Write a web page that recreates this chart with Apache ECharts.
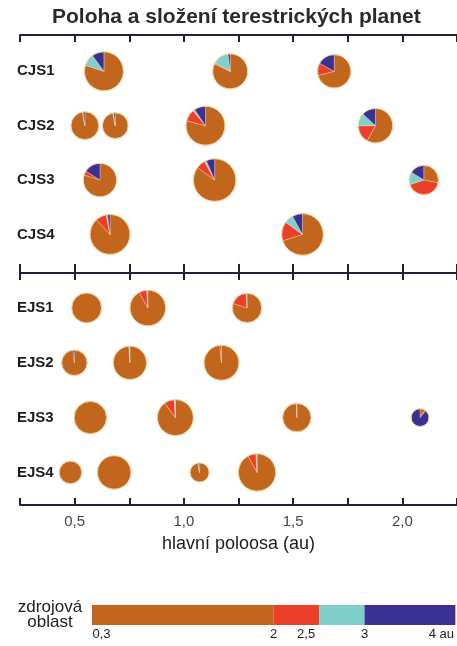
<!DOCTYPE html>
<html>
<head>
<meta charset="utf-8">
<script src="https://cdn.jsdelivr.net/npm/echarts@6/dist/echarts.min.js"></script>
<style>
html,body{margin:0;padding:0;background:#fff;}
#chart{width:457px;height:646px;}
</style>
</head>
<body>
<div id="chart"></div>
<script>
// ---- data ----
const titleText = 'Poloha a složení terestrických planet';
const axisName = 'hlavní poloosa (au)';
const xTickLabels = [0.5, 1.0, 1.5, 2.0];

const cjsRows = ['CJS1', 'CJS2', 'CJS3', 'CJS4'];
const ejsRows = ['EJS1', 'EJS2', 'EJS3', 'EJS4'];

// semi-major axes (au) per row
const cjsA = [
  [0.634, 1.212, 1.688],
  [0.547, 0.686, 1.099, 1.877],
  [0.616, 1.141, 2.098],
  [0.662, 1.543]
];
const ejsA = [
  [0.555, 0.835, 1.289],
  [0.499, 0.753, 1.172],
  [0.572, 0.961, 1.517, 2.081],
  [0.481, 0.681, 1.072, 1.335]
];
// planet masses (relative, size of disc ~ mass^(1/3))
const cjsMass = [
  [0.93, 0.67, 0.58],
  [0.34, 0.27, 0.93, 0.64],
  [0.58, 1.21, 0.40],
  [1.00, 1.13]
];
const ejsMass = [
  [0.42, 0.71, 0.40],
  [0.26, 0.58, 0.67],
  [0.54, 0.73, 0.36, 0.09],
  [0.18, 0.59, 0.11, 0.82]
];
// composition by source region: [0.3-2, 2-2.5, 2.5-3, 3-4 au]
const cjsComp = [
  [[0.80, 0.00, 0.10, 0.10], [0.82, 0.01, 0.15, 0.02], [0.71, 0.12, 0.00, 0.17]],
  [[0.97, 0.01, 0.00, 0.02], [0.97, 0.00, 0.01, 0.02], [0.79, 0.10, 0.015, 0.095], [0.58, 0.17, 0.12, 0.13]],
  [[0.80, 0.04, 0.00, 0.16], [0.85, 0.07, 0.015, 0.065], [0.28, 0.42, 0.14, 0.16]],
  [[0.88, 0.09, 0.01, 0.02], [0.70, 0.15, 0.07, 0.08]]
];
const ejsComp = [
  [[1.00, 0.00, 0.00, 0.00], [0.92, 0.07, 0.01, 0.00], [0.80, 0.19, 0.01, 0.00]],
  [[0.98, 0.00, 0.00, 0.02], [0.99, 0.00, 0.01, 0.00], [0.985, 0.015, 0.00, 0.00]],
  [[1.00, 0.00, 0.00, 0.00], [0.90, 0.09, 0.01, 0.00], [0.995, 0.00, 0.005, 0.00], [0.09, 0.02, 0.00, 0.89]],
  [[1.00, 0.00, 0.00, 0.00], [1.00, 0.00, 0.00, 0.00], [0.97, 0.00, 0.01, 0.02], [0.92, 0.07, 0.01, 0.00]]
];

// source-region legend
const srcLabels = ['0,3', '2', '2,5', '3', '4 au'];
const srcWidths = [4, 1, 1, 2];
const srcTitle = 'zdrojová\noblast';

// ---- styles ----
const regionColors = ['#c1661c', '#ec3f2a', '#7fd0cd', '#3a3192'];
const axisColor = '#20203a';
const textColor = '#1c1c1c';
const FONT = 'Liberation Sans, Arial';

function buildData(A, M, C) {
  const out = [];
  A.forEach((row, i) => row.forEach((a, j) => {
    out.push([a, i + 1, M[i][j]].concat(C[i][j]));
  }));
  return out;
}

function radiusOf(m) { return 20 * Math.cbrt(m); }

function renderPie(params, api) {
  const c = api.coord([api.value(0), api.value(1)]);
  const r = radiusOf(api.value(2));
  const children = [];
  let ang = -Math.PI / 2;
  for (let k = 0; k < 4; k++) {
    const f = api.value(3 + k);
    if (f <= 0) continue;
    const e = ang + f * 2 * Math.PI;
    children.push({
      type: 'sector',
      shape: { cx: c[0], cy: c[1], r0: 0, r: r, startAngle: ang, endAngle: e, clockwise: true },
      style: { fill: regionColors[k], stroke: 'rgba(250,225,190,0.7)', lineWidth: 0.5 }
    });
    ang = e;
  }
  children.push({
    type: 'circle',
    shape: { cx: c[0], cy: c[1], r: r },
    style: { fill: 'none', stroke: '#f3d2a2', lineWidth: 1 }
  });
  return { type: 'group', children: children };
}

const xBase = {
  type: 'value', min: 0.25, max: 2.25, interval: 0.25,
  axisLine: { show: true, onZero: false, lineStyle: { color: axisColor, width: 2 } },
  axisTick: { show: true, inside: true, length: 7, lineStyle: { color: axisColor, width: 2 } },
  axisLabel: { show: false },
  splitLine: { show: false }
};

function yRowAxis(gridIndex, rows, min, max) {
  return {
    type: 'value', gridIndex: gridIndex, min: min, max: max, inverse: true, offset: 3,
    axisLine: { show: false }, axisTick: { show: false }, splitLine: { show: false },
    axisLabel: {
      inside: true, margin: 0, customValues: [1, 2, 3, 4],
      formatter: v => rows[Math.round(v) - 1],
      fontFamily: FONT, fontSize: 15, fontWeight: 'bold', color: textColor
    }
  };
}

const srcCum = [0];
srcWidths.forEach((w, i) => srcCum.push(srcCum[i] + w));

const chart = echarts.init(document.getElementById('chart'), null, { renderer: 'canvas' });
chart.setOption({
  animation: false,
  backgroundColor: '#fff',
  title: {
    text: titleText, left: 47, top: 2,
    textStyle: { fontFamily: FONT, fontWeight: 'bold', fontSize: 21, color: '#2a2a2a' }
  },
  grid: [
    { left: 20, right: 0, top: 35, height: 238 },
    { left: 20, right: 0, top: 273, height: 232 },
    { left: 92, right: 0, top: 605, height: 20 }
  ],
  xAxis: [
    Object.assign({}, xBase, { gridIndex: 0, position: 'top' }),
    Object.assign({}, xBase, { gridIndex: 0, position: 'bottom', axisTick: Object.assign({}, xBase.axisTick, { length: 9 }) }),
    Object.assign({}, xBase, { gridIndex: 1, position: 'top' }),
    Object.assign({}, xBase, {
      gridIndex: 1, position: 'bottom',
      axisLabel: {
        show: true, customValues: xTickLabels, margin: 9,
        formatter: v => v.toFixed(1).replace('.', ','),
        fontFamily: FONT, fontSize: 15, color: '#444'
      },
      name: axisName, nameLocation: 'middle', nameGap: 30,
      nameTextStyle: { fontFamily: FONT, fontSize: 18, color: textColor }
    }),
    {
      type: 'value', gridIndex: 2, min: 0, max: srcCum[srcCum.length - 1],
      axisLine: { show: false }, axisTick: { show: false }, splitLine: { show: false },
      axisLabel: {
        show: true, margin: 3, customValues: srcCum,
        formatter: v => {
          const i = srcCum.indexOf(v);
          if (i === 0) return '{l|' + srcLabels[i] + '}';
          if (i === srcCum.length - 1) return '{r|' + srcLabels[i] + '}';
          if (i === 2) return '{m|' + srcLabels[i] + '}';
          return '{c|' + srcLabels[i] + '}';
        },
        rich: {
          l: { fontSize: 13, color: textColor, padding: [0, 0, 0, 19], fontFamily: FONT },
          r: { fontSize: 13, color: textColor, padding: [0, 28, 0, 0], fontFamily: FONT },
          m: { fontSize: 13, color: textColor, padding: [0, 26, 0, 0], fontFamily: FONT },
          c: { fontSize: 13, color: textColor, fontFamily: FONT }
        }
      }
    }
  ],
  yAxis: [
    yRowAxis(0, cjsRows, 0.332, 4.71),
    yRowAxis(1, ejsRows, 0.3625, 4.594),
    {
      type: 'category', gridIndex: 2, data: [srcTitle],
      axisLine: { show: false }, axisTick: { show: false },
      axisLabel: { align: 'center', margin: 42, fontFamily: FONT, fontSize: 17, lineHeight: 15, color: textColor }
    }
  ],
  series: [
    {
      type: 'custom', xAxisIndex: 0, yAxisIndex: 0,
      renderItem: renderPie, data: buildData(cjsA, cjsMass, cjsComp), clip: false
    },
    {
      type: 'custom', xAxisIndex: 2, yAxisIndex: 1,
      renderItem: renderPie, data: buildData(ejsA, ejsMass, ejsComp), clip: false
    }
  ].concat(srcWidths.map((w, i) => ({
    type: 'bar', xAxisIndex: 4, yAxisIndex: 2, stack: 'src', barWidth: 20,
    data: [w], itemStyle: { color: regionColors[i] }
  })))
});
</script>
</body>
</html>
